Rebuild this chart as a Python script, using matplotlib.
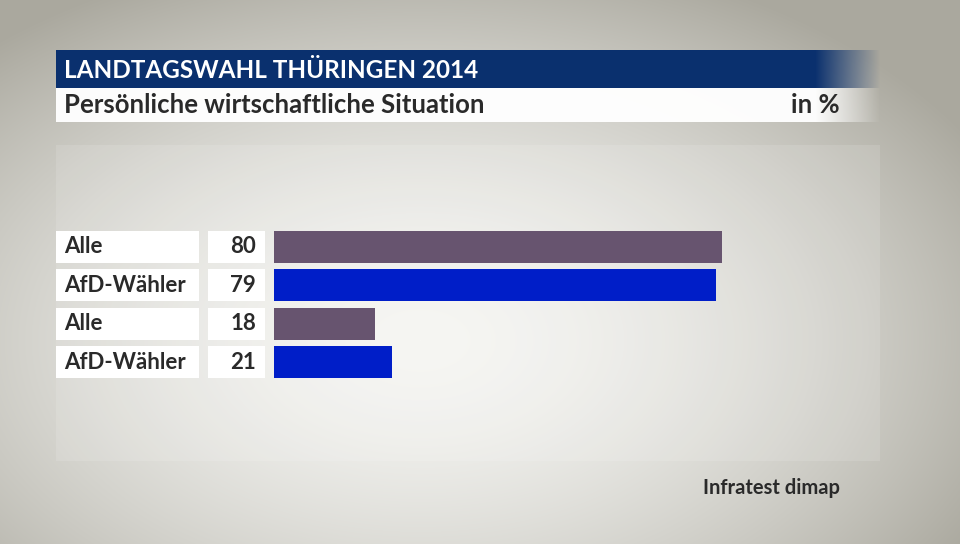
import numpy as np
import matplotlib
matplotlib.use("Agg")
import matplotlib.pyplot as plt
from matplotlib.patches import Rectangle
from matplotlib.transforms import blended_transform_factory

# ---- data ----
categories = ["Alle", "AfD-Wähler", "Alle", "AfD-Wähler"]
values = [80, 79, 18, 21]
bar_colors = ["#67546f", "#001ec8", "#67546f", "#001ec8"]
title = "LANDTAGSWAHL THÜRINGEN 2014"
subtitle = "Persönliche wirtschaftliche Situation"
unit = "in %"
source = "Infratest dimap"

FONT = "Lato"
W, H = 960, 544
fig = plt.figure(figsize=(W / 100, H / 100), dpi=100)

# ---- background ----
bg = fig.add_axes([0, 0, 1, 1])
bg.set_xlim(0, W)
bg.set_ylim(H, 0)
bg.axis("off")
yy, xx = np.mgrid[0:H, 0:W]
d = np.sqrt(((xx - 420) / 640) ** 2 + ((yy - 340) / 400) ** 2)
d = np.clip(d, 0, 1) ** 1.7
light = np.array([245, 245, 242]) / 255
dark = np.array([170, 168, 158]) / 255
img = light[None, None, :] * (1 - d[..., None]) + dark[None, None, :] * d[..., None]
bg.imshow(img, extent=(0, W, H, 0), aspect="auto", zorder=0)
# subtle lighter panel
bg.add_patch(Rectangle((56, 145), 824, 316, facecolor="white", alpha=0.12,
                       edgecolor="none", zorder=1))

# header bar with fade on the right
navy = np.array([10, 48, 110]) / 255
hx = np.arange(56, 881)
alpha = np.clip((880 - hx) / 65.0, 0, 1)
hdr = np.zeros((1, len(hx), 4))
hdr[..., :3] = navy
hdr[..., 3] = alpha
bg.imshow(hdr, extent=(56, 881, 88, 50), aspect="auto", zorder=2)
# subtitle band
sub = np.ones((1, len(hx), 4))
sub[..., 3] = alpha * 0.97
bg.imshow(sub, extent=(56, 881, 122, 88), aspect="auto", zorder=2)
bg.set_xlim(0, W)
bg.set_ylim(H, 0)

bg.text(64, 70, title, color="white", fontsize=17.5, fontweight="bold",
        family=FONT, va="center", ha="left", zorder=3)
bg.text(64, 105, subtitle, color="#2a2a2a", fontsize=18.5, fontweight="bold",
        family=FONT, va="center", ha="left", zorder=3)
bg.text(840, 105, unit, color="#2a2a2a", fontsize=18.5, fontweight="bold",
        family=FONT, va="center", ha="right", zorder=3)
bg.text(840, 488, source, color="#2a2a2a", fontsize=14.5, fontweight="bold",
        family=FONT, va="center", ha="right", zorder=3)

# ---- bars ----
x0, ppu = 274, 5.6
top, pitch = 227.5, 38.5
n = len(values)
ax = fig.add_axes([x0 / W, 1 - (top + n * pitch) / H, 100 * ppu / W, n * pitch / H])
ax.set_xlim(0, 100)
ax.set_ylim(n - 0.5, -0.5)
ax.axis("off")
ax.patch.set_alpha(0)
ypos = np.arange(n)
ax.barh(ypos, values, height=0.83, color=bar_colors, edgecolor="none", zorder=2)

tr = blended_transform_factory(bg.transData, ax.transData)
for i, (cat, v) in enumerate(zip(categories, values)):
    ax.add_patch(Rectangle((56, i - 0.415), 143, 0.83, transform=tr,
                           facecolor="white", edgecolor="none", clip_on=False, zorder=1))
    ax.add_patch(Rectangle((208, i - 0.415), 57, 0.83, transform=tr,
                           facecolor="white", edgecolor="none", clip_on=False, zorder=1))
    ax.text(64, i, cat, transform=tr, fontsize=16, fontweight="bold", family=FONT,
            color="#2a2a2a", va="center", ha="left", clip_on=False, zorder=3)
    ax.text(256, i, f"{v}", transform=tr, fontsize=16, fontweight="bold", family=FONT,
            color="#2a2a2a", va="center", ha="right", clip_on=False, zorder=3)

fig.savefig("out.png", dpi=100)
